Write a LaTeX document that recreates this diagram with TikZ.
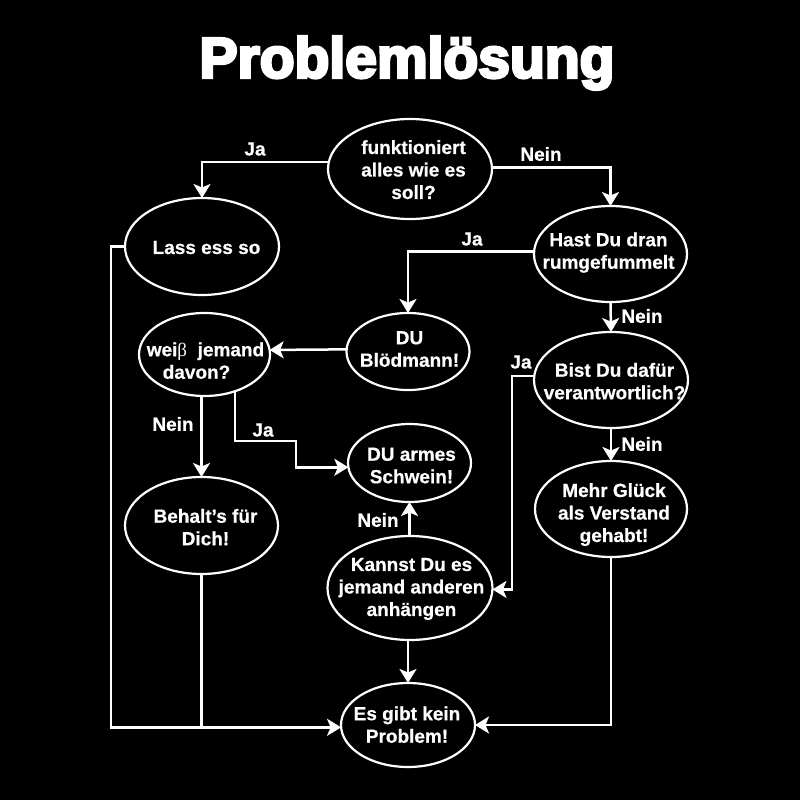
\documentclass[tikz,border=0pt]{standalone}
\usepackage{fontspec}
\setmainfont{Liberation Sans}[BoldFont={Liberation Sans Bold},BoldFeatures={FakeBold=0.6}]
\newfontfamily\titlefont[FakeBold=5]{Liberation Sans Bold}
\newfontfamily\betafont{Liberation Serif}
\usetikzlibrary{shapes.geometric,arrows.meta}
\newcommand\qtxt[3]{\raisebox{\dimexpr-#2pt-7.3pt\relax}[0pt][0pt]{\makebox[0pt]{\hspace*{\dimexpr2\dimexpr#1pt\relax\relax}\begin{tabular}[c]{@{}c@{}}#3\end{tabular}}}}
\tikzset{
  qnode/.style n args={2}{ellipse,draw=white,line width=2.2pt,inner sep=0pt,outer sep=0pt,
    minimum width=#1pt,minimum height=#2pt,text=white,
    font=\bfseries\fontsize{19}{22.5}\selectfont},
  conn/.style={draw=white,line width=2.5pt},
  flow/.style={conn,-{Stealth[length=14pt,width=17pt,inset=3.5pt]}},
  edgelabel/.style={text=white,inner sep=0pt,font=\bfseries\fontsize{19}{22}\selectfont},
}
\begin{document}
\begin{tikzpicture}[x=1pt,y=-1pt]
\fill[black] (0,0) rectangle (800,800);
\useasboundingbox (0,0) rectangle (800,800);
\node[text=white,inner sep=0pt,font=\titlefont\fontsize{57}{60}\selectfont] (title) at (407,63) {Problemlösung};
\node[qnode={164}{100}] (funk) at (410,169) {\qtxt{3.5}{0}{funktioniert\\alles wie es\\soll?}};
\node[qnode={154}{97}] (lass) at (202,246.5) {\qtxt{4.5}{0}{Lass ess so}};
\node[qnode={131}{83}] (weiss) at (204.5,354.5) {\qtxt{1}{5.5}{wei{\betafont\mdseries β}\ \ jemand\\davon?\hspace*{18pt}}};
\node[qnode={123}{77}] (du) at (408,351.5) {\qtxt{1.5}{-3.5}{DU\\Blödmann!}};
\node[qnode={153}{96}] (hast) at (610.5,254) {\qtxt{-2}{-4}{Hast Du dran\\rumgefummelt}};
\node[qnode={154}{96}] (bist) at (611,380) {\qtxt{3.5}{0.5}{Bist Du dafür\\verantwortlich?}};
\node[qnode={152}{96}] (mehr) at (611,509) {\qtxt{3}{3}{Mehr Glück\\als Verstand\\gehabt!}};
\node[qnode={123}{78}] (armes) at (409.5,463) {\qtxt{2}{1.5}{DU armes\\Schwein!}};
\node[qnode={165}{104}] (kannst) at (410,588) {\qtxt{1.5}{-2}{Kannst Du es\\jemand anderen\\anhängen}};
\node[qnode={153}{97}] (behalt) at (201.5,525.5) {\qtxt{4}{1}{Behalt’s für\\Dich!}};
\node[qnode={134}{84}] (kein) at (408,725) {\qtxt{-1}{-1}{Es gibt kein\\Problem!}};
\coordinate (bendja) at (296,441);
\coordinate (bendbist) at (512,480);
\coordinate (bendlass) at (111,500);
\path[flow] (funk.175.8) -| (lass.north);
\path[flow] (funk.1) -| (hast.north);
\path[flow] (hast.178) -| (du.north);
\path[flow] (hast.south) -- (bist.north);
\path[flow] (du.178.6) -- (weiss.4);
\path[flow] (bist.south) -- (mehr.north);
\path[flow] (weiss.south -| behalt.north) -- (behalt.north);
\path[flow] (weiss.-50.9) |- (bendja) |- (armes.184.7);
\path[flow] (bist.177.5) -| (bendbist) |- (kannst.-1.4);
\path[flow] (armes.south |- kannst.north) -- (armes.south);
\path[flow] (kein.north |- kannst.south) -- (kein.north);
\path[flow] (mehr.south) |- (kein.east);
\path[flow] (lass.west) -| (bendlass) |- (kein.182.6);
\path[conn] (behalt.south) -- (behalt.south |- kein.182.6);
\node[edgelabel] (l1) at (255,149) {Ja};
\node[edgelabel] (l2) at (541,154) {Nein};
\node[edgelabel] (l3) at (472,239) {Ja};
\node[edgelabel] (l4) at (642,316) {Nein};
\node[edgelabel] (l5) at (521,362) {Ja};
\node[edgelabel] (l6) at (642,444) {Nein};
\node[edgelabel] (l7) at (173,424) {Nein};
\node[edgelabel] (l8) at (263,430) {Ja};
\node[edgelabel] (l9) at (378,520) {Nein};
\end{tikzpicture}
\end{document}
